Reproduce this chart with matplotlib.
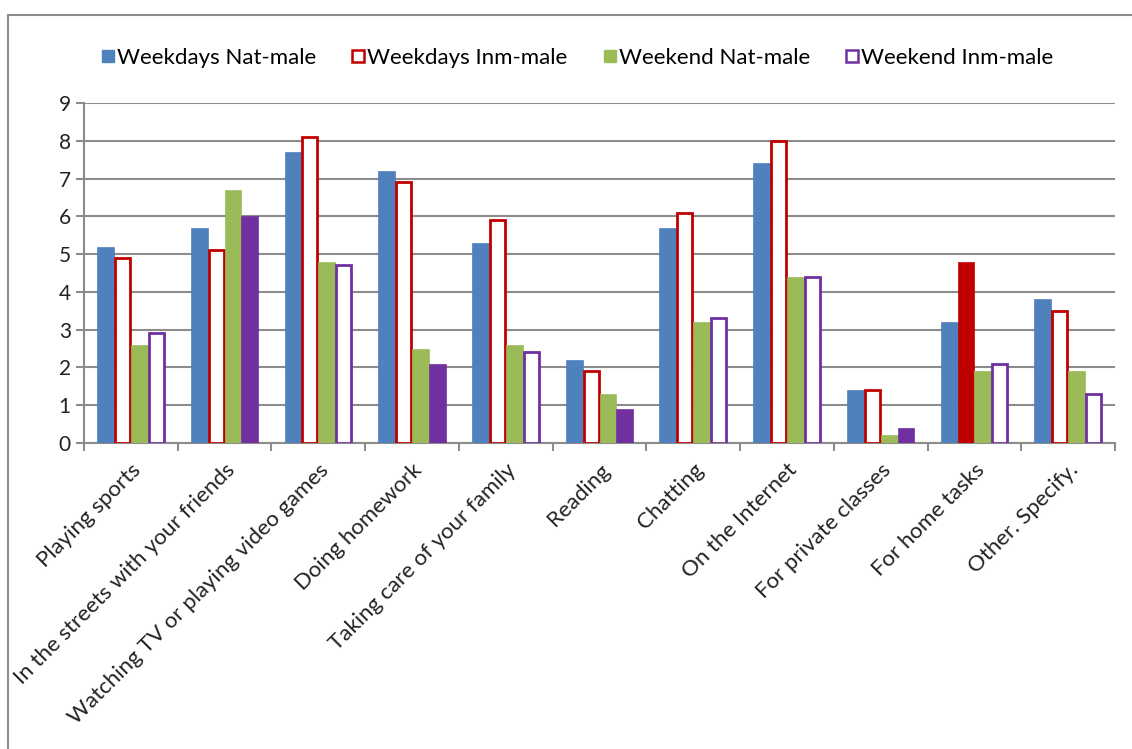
import matplotlib
matplotlib.use("Agg")
import matplotlib.pyplot as plt
import numpy as np
from matplotlib.patches import Rectangle
from matplotlib.lines import Line2D

categories = ["Playing sports", "In the streets with your friends",
              "Watching TV or playing video games", "Doing homework",
              "Taking care of your family", "Reading", "Chatting",
              "On the Internet", "For private classes", "For home tasks",
              "Other. Specify."]
series_names = ["Weekdays Nat-male", "Weekdays Inm-male",
                "Weekend Nat-male", "Weekend Inm-male"]
weekdays_nat = [5.2, 5.7, 7.7, 7.2, 5.3, 2.2, 5.7, 7.4, 1.4, 3.2, 3.8]
weekdays_inm = [4.9, 5.1, 8.1, 6.9, 5.9, 1.9, 6.1, 8.0, 1.4, 4.8, 3.5]
weekend_nat = [2.6, 6.7, 4.8, 2.5, 2.6, 1.3, 3.2, 4.4, 0.2, 1.9, 1.9]
weekend_inm = [2.9, 6.0, 4.7, 2.1, 2.4, 0.9, 3.3, 4.4, 0.4, 2.1, 1.3]
# which bars appear filled (others hollow)
weekdays_inm_filled = [False]*9 + [True, False]
weekend_inm_filled = [False, True, False, True, False, True, False, False, True, False, False]

colors = ["#4F81BD", "#C00000", "#9BBB59", "#7030A0"]
plt.rcParams['font.family'] = ['Lato', 'DejaVu Sans']

fig = plt.figure(figsize=(11.32, 7.49), dpi=100)
fig.patches.append(Rectangle((0.007, -0.05), 1.2, 1.03, transform=fig.transFigure,
                             fill=False, edgecolor="#8c8c8c", linewidth=1.5))
ax = fig.add_axes([0.0742, 0.4085, 0.9108, 0.454])

x = np.arange(len(categories))
w = 0.18
data = [weekdays_nat, weekdays_inm, weekend_nat, weekend_inm]
filled = [[True]*11, weekdays_inm_filled, [True]*11, weekend_inm_filled]
for i, (vals, fl, c) in enumerate(zip(data, filled, colors)):
    offs = (i - 1.5) * w
    for xi, v, f in zip(x, vals, fl):
        if f:
            ax.bar(xi + offs, v, w, color=c, edgecolor=c, linewidth=0.5, zorder=3)
        else:
            ax.bar(xi + offs, v, w - 0.02, color="white", edgecolor=c, linewidth=2, zorder=3)

ax.set_xlim(-0.5, len(categories) - 0.5)
ax.set_ylim(0, 9)
ax.set_yticks(range(10))
ax.yaxis.grid(True, color="#8c8c8c", linewidth=1.5, zorder=0)
ax.set_axisbelow(True)
for s in ["top", "right"]:
    ax.spines[s].set_visible(False)
for s in ["left", "bottom"]:
    ax.spines[s].set_color("#8c8c8c")
    ax.spines[s].set_linewidth(1.5)
ax.set_xticks(np.arange(-0.5, len(categories), 1.0))
ax.set_xticklabels([])
ax.set_xticks(x, minor=True)
ax.set_xticklabels(categories, minor=True, rotation=45, ha="right",
                   rotation_mode="anchor", fontsize=16, color="#222222")
ax.tick_params(axis="x", which="minor", length=0, pad=12)
ax.tick_params(axis="x", which="major", length=6, width=1.5, color="#8c8c8c")
ax.tick_params(axis="y", length=6, width=1.5, color="#8c8c8c", labelsize=15,
               labelcolor="#222222")

handles = []
for i, c in enumerate(colors):
    if i in (0, 2):
        handles.append(Line2D([], [], marker="s", linestyle="none", markersize=9,
                              markerfacecolor=c, markeredgecolor=c))
    else:
        handles.append(Line2D([], [], marker="s", linestyle="none", markersize=9,
                              markerfacecolor="white", markeredgecolor=c,
                              markeredgewidth=1.8))
fig.legend(handles, series_names, loc="center", bbox_to_anchor=(0.51, 0.923),
           ncol=4, frameon=False, fontsize=16, handlelength=0.6,
           handletextpad=0.1, columnspacing=1.6)

fig.savefig("out.png", dpi=100)
